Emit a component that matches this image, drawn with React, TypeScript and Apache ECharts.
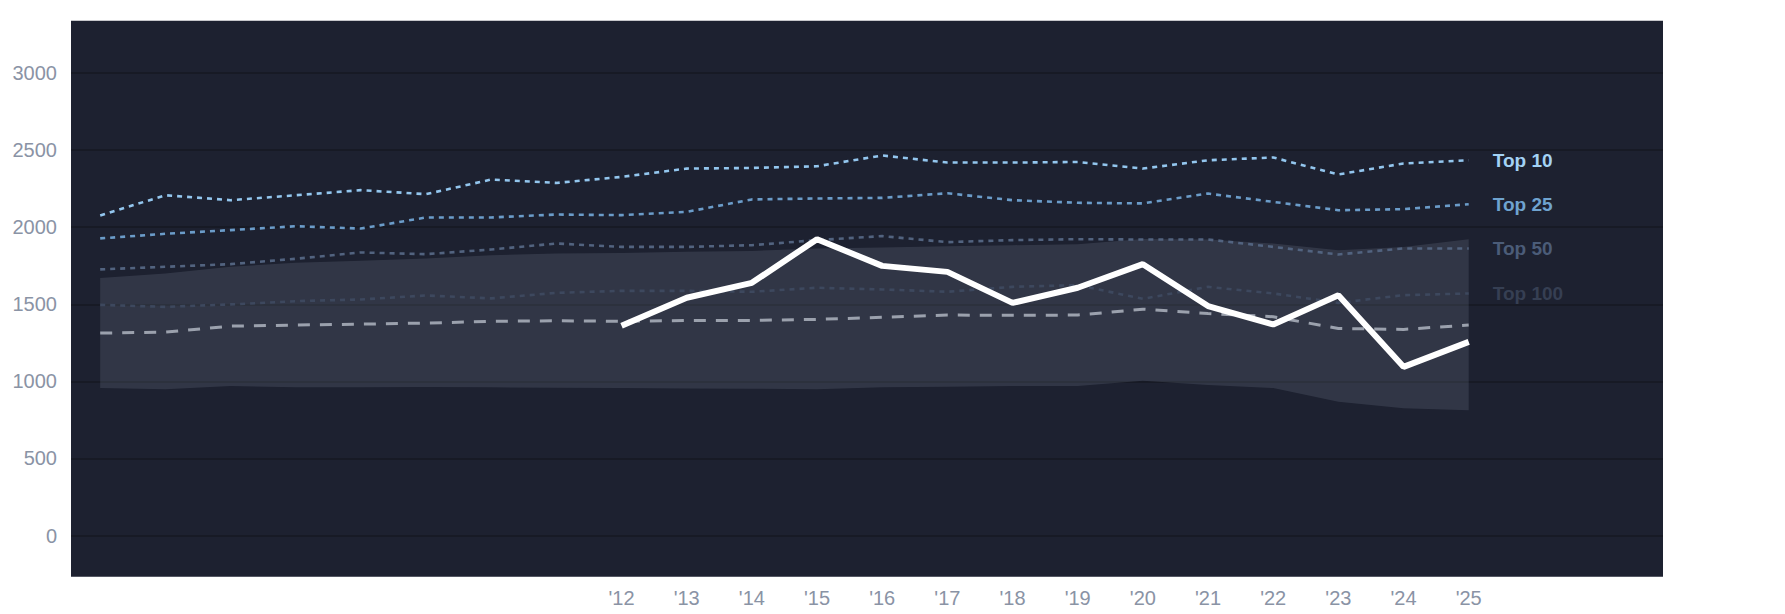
import React, { useEffect, useRef } from "react";
import * as echarts from "echarts";

const years = ["'04","'05","'06","'07","'08","'09","'10","'11","'12","'13","'14","'15","'16","'17","'18","'19","'20","'21","'22","'23","'24","'25"];
const firstLabelIndex = 8;
const yTicks = [0, 3000, 500];

const top10 = [2076,2207,2175,2207,2240,2214,2309,2287,2326,2380,2384,2395,2465,2419,2419,2423,2380,2434,2452,2342,2413,2434];
const top25 = [1927,1957,1981,2006,1991,2063,2063,2082,2078,2099,2180,2186,2190,2220,2175,2158,2154,2218,2164,2110,2117,2149];
const top50 = [1726,1743,1760,1795,1836,1825,1855,1894,1872,1872,1883,1916,1942,1903,1916,1922,1920,1920,1872,1823,1862,1862];
const top100 = [1496,1483,1499,1520,1531,1557,1538,1574,1587,1587,1581,1607,1596,1581,1613,1624,1535,1613,1570,1509,1559,1570];
const median = [1313,1319,1358,1365,1371,1378,1389,1393,1389,1395,1395,1402,1415,1430,1428,1430,1468,1440,1419,1343,1337,1365];
const bandUpper = [1671,1700,1743,1769,1782,1797,1818,1829,1833,1840,1846,1862,1868,1877,1883,1890,1924,1920,1894,1851,1872,1922];
const bandLower = [956,948,969,961,961,963,961,958,956,954,952,948,961,965,969,969,1004,976,956,867,825,812];
const highlight = [null,null,null,null,null,null,null,null,1360,1542,1639,1922,1749,1710,1509,1607,1760,1488,1369,1559,1094,1256];

const FONT = "'Liberation Sans', Arial, Helvetica, sans-serif";

function tierSeries(name: string, data: number[], color: string, labelColor: string) {
  return {
    name,
    type: "line",
    xAxisIndex: 1,
    yAxisIndex: 1,
    data,
    symbol: "none",
    z: 3,
    lineStyle: { color, width: 2.6, type: [5, 5] },
    endLabel: {
      show: true,
      formatter: name,
      color: labelColor,
      fontWeight: "bold",
      fontSize: 19,
      fontFamily: FONT,
      distance: 24,
    },
  };
}

export default function App() {
  const ref = useRef<HTMLDivElement>(null);
  useEffect(() => {
    if (!ref.current) return;
    const chart = echarts.init(ref.current, undefined, { renderer: "svg" });
    const diff = bandUpper.map((u, i) => u - bandLower[i]);
    chart.setOption({
      animation: false,
      textStyle: { fontFamily: FONT },
      graphic: [
        {
          type: "rect",
          z: -10,
          silent: true,
          shape: { x: 71, y: 20.7, width: 1592, height: 556 },
          style: { fill: "#1d2130" },
        },
      ],
      grid: [
        { left: 71, top: 73, width: 1592, height: 462.5 },
        { left: 100.2, top: 73, width: 1368.5, height: 462.5 },
      ],
      xAxis: [
        { gridIndex: 0, type: "value", min: 0, max: 1, show: false },
        {
          gridIndex: 1,
          type: "category",
          data: years,
          boundaryGap: false,
          axisLine: { show: false },
          axisTick: { show: false },
          splitLine: { show: false },
          axisLabel: {
            interval: 0,
            margin: 52,
            fontSize: 20,
            color: "#8a93a5",
            fontFamily: FONT,
            formatter: (v: string, i: number) => (i >= firstLabelIndex ? v : ""),
          },
        },
      ],
      yAxis: [
        {
          gridIndex: 0,
          type: "value",
          min: yTicks[0],
          max: yTicks[1],
          interval: yTicks[2],
          axisLine: { show: false },
          axisTick: { show: false },
          splitLine: { show: true, lineStyle: { color: "#171a25", width: 2 } },
          axisLabel: {
            fontSize: 20,
            color: "#8a93a5",
            margin: 14,
            fontFamily: FONT,
            formatter: (v: number) => String(v),
          },
        },
        {
          gridIndex: 1,
          type: "value",
          min: yTicks[0],
          max: yTicks[1],
          interval: yTicks[2],
          show: false,
          splitLine: { show: false },
        },
      ],
      series: [
        {
          name: "bandLower",
          type: "line",
          xAxisIndex: 1,
          yAxisIndex: 1,
          stack: "band",
          data: bandLower,
          symbol: "none",
          lineStyle: { width: 0, opacity: 0 },
          z: 1,
        },
        {
          name: "band",
          type: "line",
          xAxisIndex: 1,
          yAxisIndex: 1,
          stack: "band",
          data: diff,
          symbol: "none",
          lineStyle: { width: 0, opacity: 0 },
          areaStyle: { color: "rgba(125,130,150,0.22)", opacity: 1 },
          z: 1,
        },
        tierSeries("Top 100", top100, "#3d485e", "#363f53"),
        tierSeries("Top 50", top50, "#52637f", "#4b5c78"),
        tierSeries("Top 25", top25, "#6b9cc9", "#6fa3cf"),
        tierSeries("Top 10", top10, "#93c6ee", "#a3d2f5"),
        {
          name: "median",
          type: "line",
          xAxisIndex: 1,
          yAxisIndex: 1,
          data: median,
          symbol: "none",
          z: 4,
          lineStyle: { color: "#9ba1ad", width: 3, type: [12, 10] },
        },
        {
          name: "highlight",
          type: "line",
          xAxisIndex: 1,
          yAxisIndex: 1,
          data: highlight,
          symbol: "none",
          connectNulls: false,
          z: 5,
          lineStyle: { color: "#ffffff", width: 6 },
        },
      ],
    });
    return () => chart.dispose();
  }, []);
  return (
    <div
      ref={ref}
      style={{ position: "fixed", left: 0, top: 0, width: 1785, height: 614, background: "#ffffff" }}
    />
  );
}
